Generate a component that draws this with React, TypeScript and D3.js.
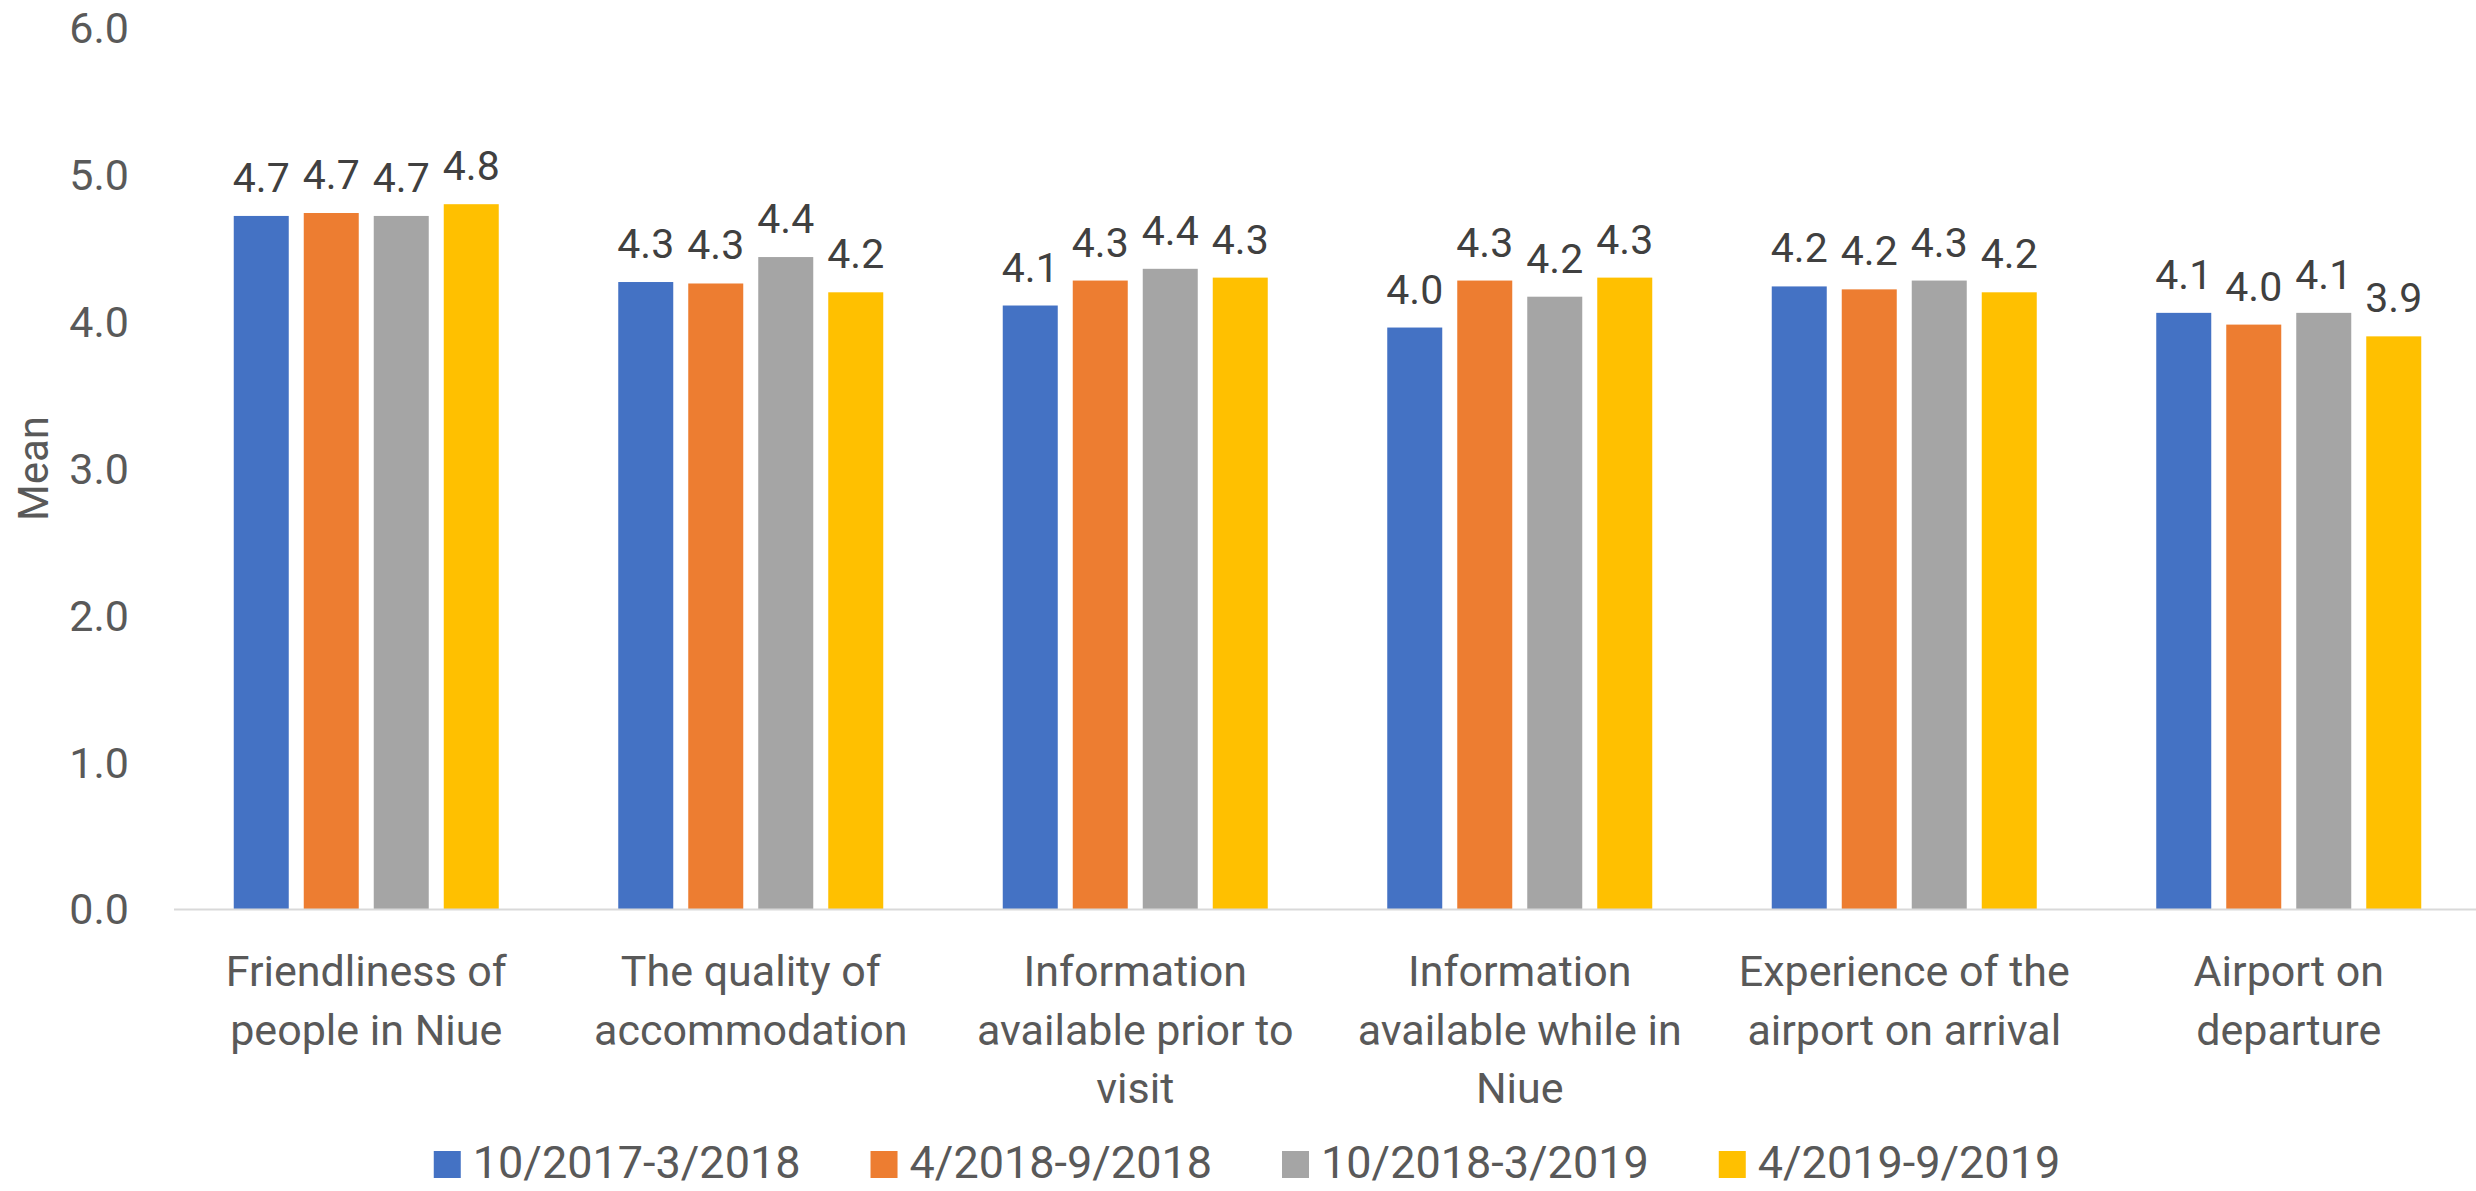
import React, { useEffect } from 'react';
import * as d3 from 'd3';

const categories = [
  ['Friendliness of', 'people in Niue'],
  ['The quality of', 'accommodation'],
  ['Information', 'available prior to', 'visit'],
  ['Information', 'available while in', 'Niue'],
  ['Experience of the', 'airport on arrival'],
  ['Airport on', 'departure'],
];
const seriesNames = ['10/2017-3/2018', '4/2018-9/2018', '10/2018-3/2019', '4/2019-9/2019'];
const seriesColors = ['#4472C4', '#ED7D31', '#A5A5A5', '#FFC000'];

// one array per period, in category order
const s2017 = [4.72, 4.27, 4.11, 3.96, 4.24, 4.06];
const s2018a = [4.74, 4.26, 4.28, 4.28, 4.22, 3.98];
const s2018b = [4.72, 4.44, 4.36, 4.17, 4.28, 4.06];
const s2019 = [4.8, 4.2, 4.3, 4.3, 4.2, 3.9];
const seriesValues = [s2017, s2018a, s2018b, s2019];

const yTicks = [0, 1, 2, 3, 4, 5, 6];

const W = 2476;
const H = 1191;
const FONT = 'Roboto, sans-serif';

const measure = (text: string, size: number) => {
  const ctx = document.createElement('canvas').getContext('2d');
  if (!ctx) return text.length * size * 0.5;
  ctx.font = `${size}px Roboto`;
  return ctx.measureText(text).width;
};

export default function App() {
  useEffect(() => {
    document.body.style.margin = '0';
  }, []);

  const x0 = d3.scaleBand<number>().domain(d3.range(categories.length)).range([174, 2481]);
  const groupPad = (x0.bandwidth() - 265) / 2;
  const x1 = d3
    .scaleBand<number>()
    .domain(d3.range(seriesNames.length))
    .range([groupPad, x0.bandwidth() - groupPad])
    .paddingInner(15 / 70);
  const y = d3.scaleLinear().domain([0, 6]).range([909, 28]);

  // legend layout: square, gap, text, then gap to next item
  const legendSize = 45;
  const sq = 27;
  const textW = seriesNames.map(s => measure(s, legendSize));
  const itemW = textW.map(w => sq + 12 + w);
  const totalW = d3.sum(itemW) + 70 * (seriesNames.length - 1);
  let lx = 1247 - totalW / 2;
  const legendX = itemW.map(w => {
    const p = lx;
    lx += w + 70;
    return p;
  });

  return (
    <svg width={W} height={H} style={{ display: 'block', background: '#fff', fontFamily: FONT }}>
      {/* y axis labels */}
      {yTicks.map(t => (
        <text key={t} x={129} y={y(t)} dy="0.36em" textAnchor="end" fontSize={43} fill="#595959">
          {d3.format('.1f')(t)}
        </text>
      ))}
      <text
        transform={`translate(48, ${(y(0) + y(6)) / 2}) rotate(-90)`}
        textAnchor="middle"
        fontSize={42}
        fill="#595959"
      >
        Mean
      </text>

      {/* bars */}
      {categories.map((c, ci) => (
        <g key={ci} transform={`translate(${x0(ci)}, 0)`}>
          {seriesValues.map((vals, si) => (
            <g key={si}>
              <rect
                x={x1(si)}
                y={y(vals[ci])}
                width={x1.bandwidth()}
                height={y(0) - y(vals[ci])}
                fill={seriesColors[si]}
              />
              <text
                x={(x1(si) as number) + x1.bandwidth() / 2}
                y={y(vals[ci]) - 24}
                textAnchor="middle"
                fontSize={41}
                fill="#404040"
              >
                {d3.format('.1f')(vals[ci])}
              </text>
            </g>
          ))}
          {c.map((line, li) => (
            <text
              key={li}
              x={x0.bandwidth() / 2}
              y={986 + li * 58.5}
              textAnchor="middle"
              fontSize={43}
              fill="#595959"
            >
              {line}
            </text>
          ))}
        </g>
      ))}

      {/* x axis line */}
      <line x1={174} x2={W} y1={y(0) + 0.5} y2={y(0) + 0.5} stroke="#D9D9D9" strokeWidth={2} />

      {/* legend */}
      {seriesNames.map((s, i) => (
        <g key={s} transform={`translate(${legendX[i]}, 0)`}>
          <rect x={0} y={1151} width={sq} height={sq} fill={seriesColors[i]} />
          <text x={sq + 12} y={1178} fontSize={legendSize} fill="#595959">
            {s}
          </text>
        </g>
      ))}
    </svg>
  );
}
